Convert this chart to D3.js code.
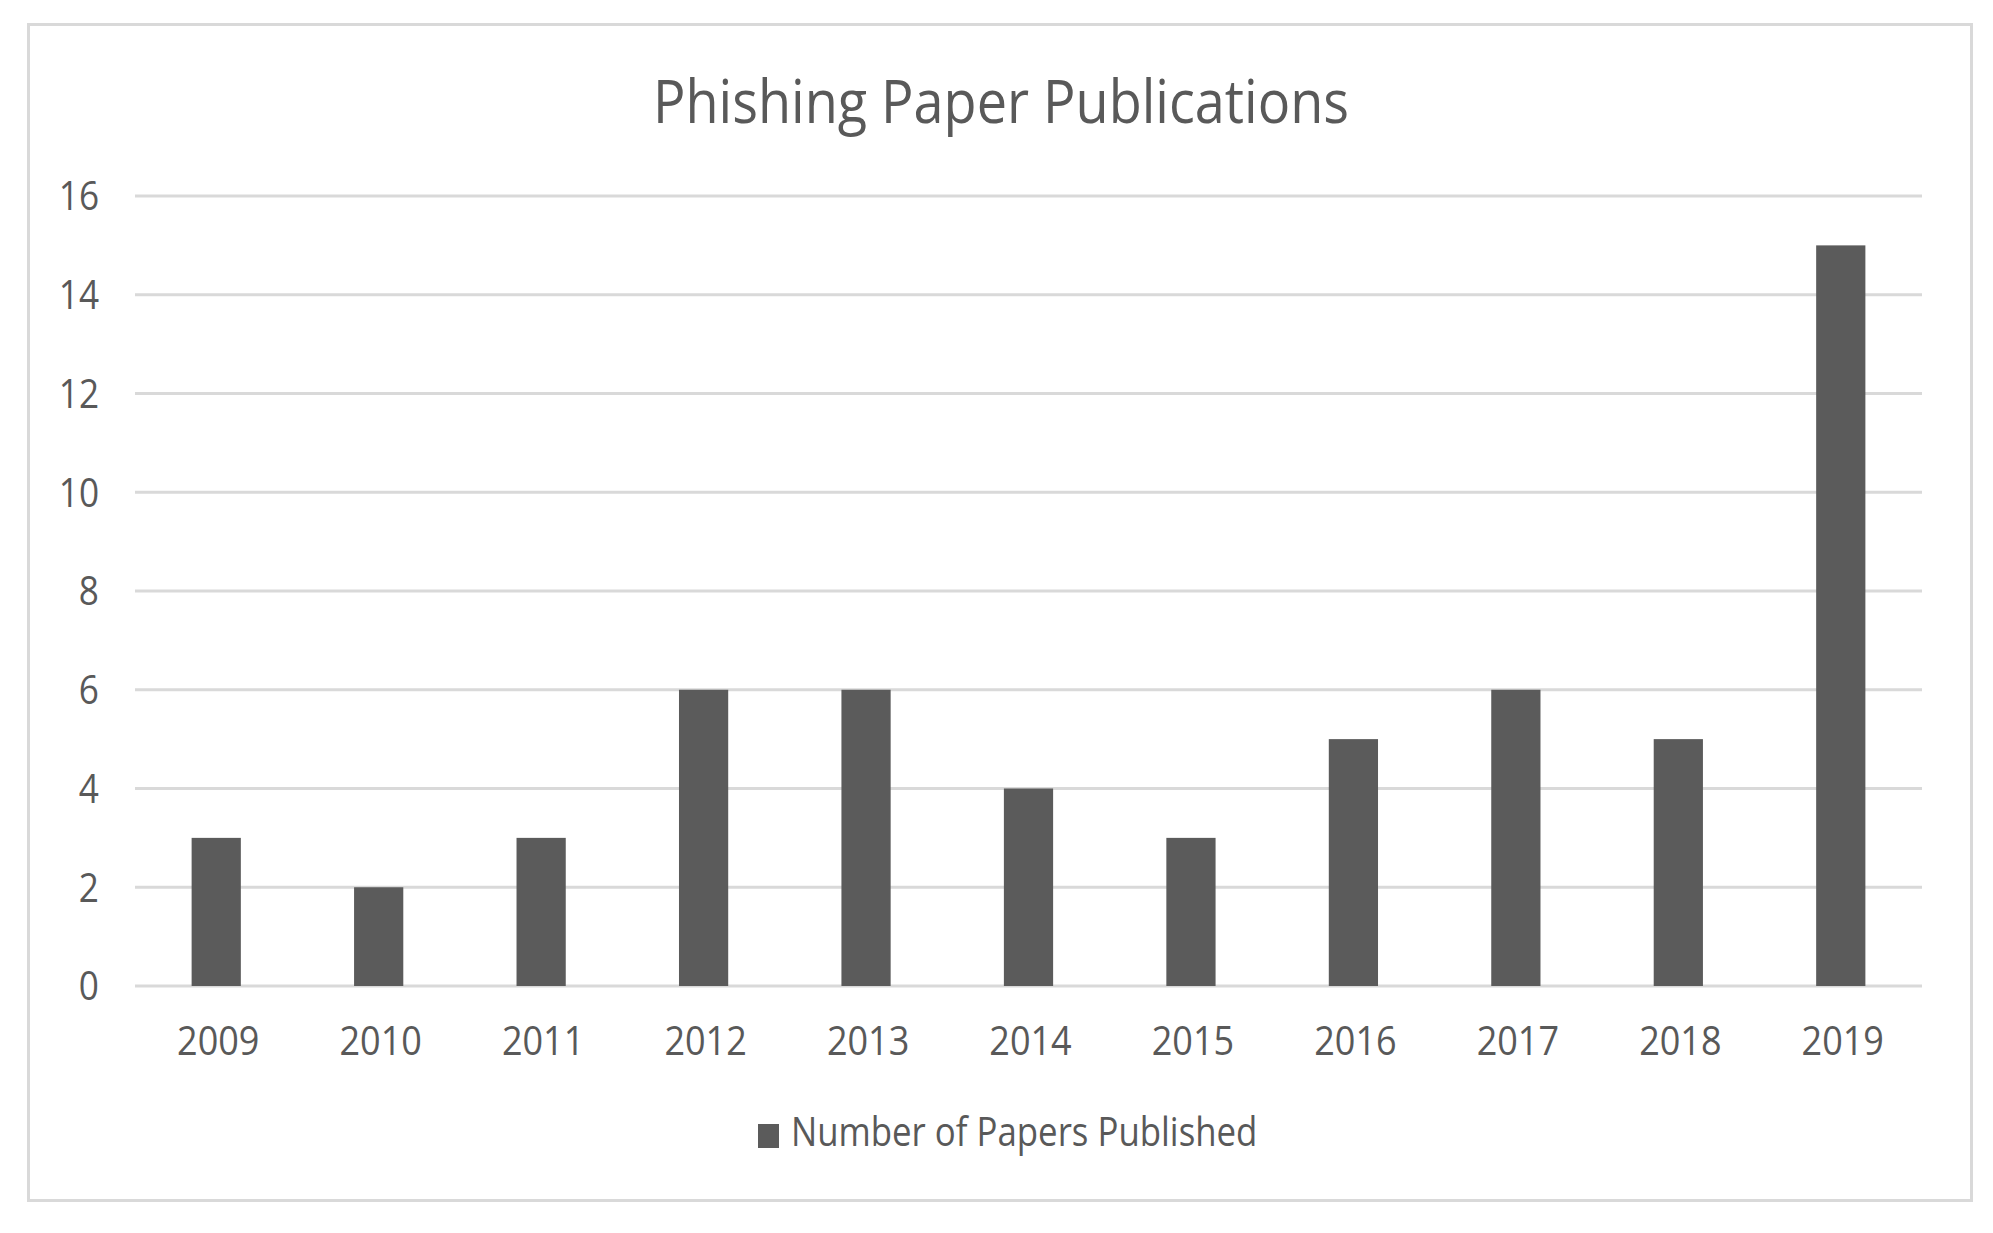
<!DOCTYPE html>
<html>
<head>
<meta charset="utf-8">
<script src="https://cdn.jsdelivr.net/npm/d3@7"></script>
<style>
  body { margin: 0; background: #fff; }
  text { font-family: "Open Sans", "Noto Sans", sans-serif; fill: #595959; }
</style>
</head>
<body>
<svg id="chart" width="1993" height="1233"></svg>
<script>
// chart data
var years = ["2009", "2010", "2011", "2012", "2013", "2014", "2015", "2016", "2017", "2018", "2019"];
var papers = [3, 2, 3, 6, 6, 4, 3, 5, 6, 5, 15];
var yTicks = [0, 2, 4, 6, 8, 10, 12, 14, 16];
var seriesName = "Number of Papers Published";
var chartTitle = "Phishing Paper Publications";

var data = years.map(function(d, i) { return {year: d, value: papers[i]}; });

var svg = d3.select("svg#chart");
var W = 1993, H = 1233;
var margin = {top: 196, right: 71, bottom: 247, left: 135},
    width = W - margin.left - margin.right,
    height = H - margin.top - margin.bottom;

// squeeze text a bit horizontally (source font is narrower)
function squeeze(sel, f) {
  sel.each(function() {
    var len = this.getComputedTextLength();
    d3.select(this).attr("textLength", len * f).attr("lengthAdjust", "spacingAndGlyphs");
  });
}

// outer frame
svg.append("rect")
    .attr("x", 28.5).attr("y", 24.5)
    .attr("width", 1943).attr("height", 1176)
    .attr("fill", "#fff")
    .attr("stroke", "#d9d9d9")
    .attr("stroke-width", 3);

var g = svg.append("g")
    .attr("transform", "translate(" + margin.left + "," + margin.top + ")");

var x = d3.scaleBand()
    .domain(years)
    .range([0, width])
    .paddingInner(0.697)
    .paddingOuter(0.3485);
var y = d3.scaleLinear()
    .domain([0, 16])
    .range([height, 0]);

// gridlines
g.append("g")
    .selectAll("line")
    .data(yTicks)
  .enter().append("line")
    .attr("x1", 0).attr("x2", width)
    .attr("y1", function(d) { return y(d); })
    .attr("y2", function(d) { return y(d); })
    .attr("stroke", "#d9d9d9")
    .attr("stroke-width", 3);

// bars
g.selectAll("rect.bar")
    .data(data)
  .enter().append("rect")
    .attr("class", "bar")
    .attr("x", function(d) { return x(d.year); })
    .attr("y", function(d) { return y(d.value); })
    .attr("width", x.bandwidth())
    .attr("height", function(d) { return y(0) - y(d.value); })
    .attr("fill", "#5b5b5b");

// y axis labels
var yl = g.append("g").selectAll("text")
    .data(yTicks)
  .enter().append("text")
    .attr("x", -36)
    .attr("y", function(d) { return y(d); })
    .attr("dy", "0.36em")
    .attr("text-anchor", "end")
    .attr("font-size", "40px")
    .text(function(d) { return d; });
squeeze(yl, 0.88);

// x axis labels
var xl = g.append("g").selectAll("text")
    .data(years)
  .enter().append("text")
    .attr("x", function(d) { return x(d) + x.bandwidth() / 2 + 2; })
    .attr("y", height + 69)
    .attr("text-anchor", "middle")
    .attr("font-size", "40px")
    .text(function(d) { return d; });
squeeze(xl, 0.9);

// title
var t = svg.append("text")
    .attr("x", 1001)
    .attr("y", 123)
    .attr("text-anchor", "middle")
    .attr("font-size", "60px")
    .text(chartTitle);
squeeze(t, 0.9);

// legend
var lg = svg.append("g").attr("transform", "translate(758,1124)");
lg.append("rect")
    .attr("width", 21).attr("height", 24)
    .attr("fill", "#5b5b5b");
var lt = lg.append("text")
    .attr("x", 33)
    .attr("y", 22)
    .attr("font-size", "40px")
    .text(seriesName);
squeeze(lt, 0.87);
</script>
</body>
</html>
